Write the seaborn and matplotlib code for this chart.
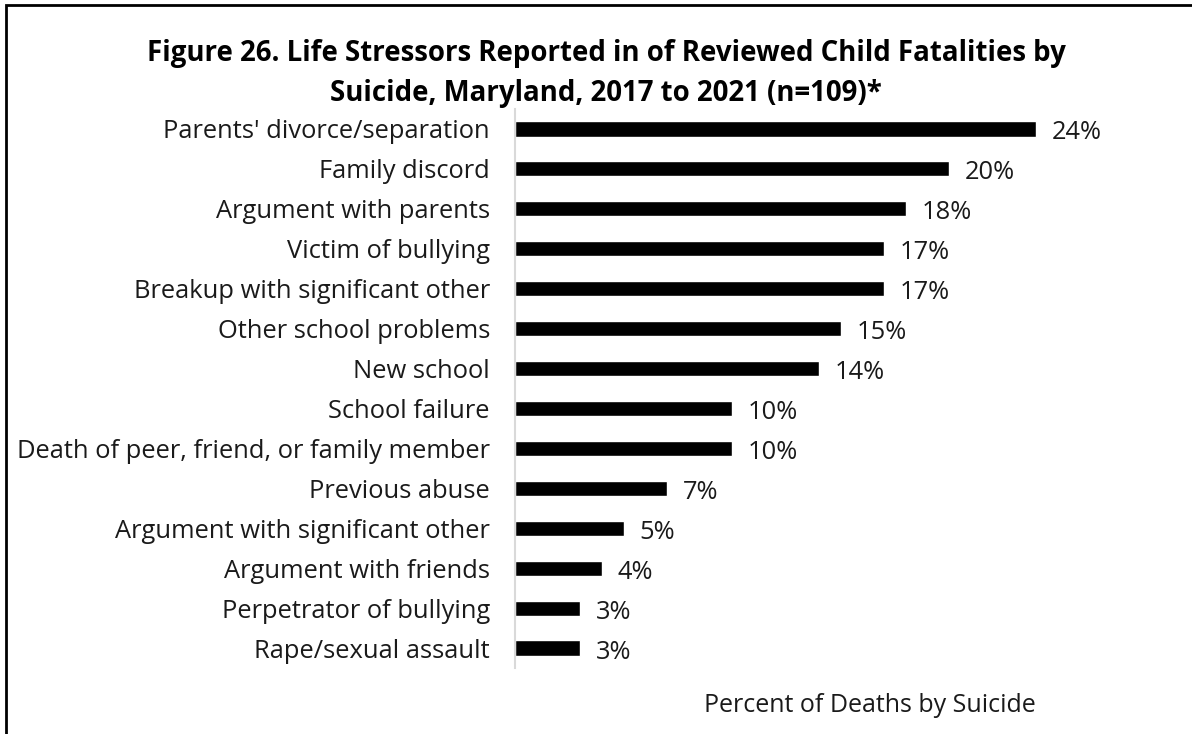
import matplotlib
matplotlib.use("Agg")
import matplotlib.pyplot as plt
import seaborn as sns
import pandas as pd
from matplotlib.patches import Rectangle

stressors = [
    "Parents' divorce/separation",
    "Family discord",
    "Argument with parents",
    "Victim of bullying",
    "Breakup with significant other",
    "Other school problems",
    "New school",
    "School failure",
    "Death of peer, friend, or family member",
    "Previous abuse",
    "Argument with significant other",
    "Argument with friends",
    "Perpetrator of bullying",
    "Rape/sexual assault",
]
percents = [24, 20, 18, 17, 17, 15, 14, 10, 10, 7, 5, 4, 3, 3]

title = ("Figure 26. Life Stressors Reported in of Reviewed Child Fatalities by\n"
         "Suicide, Maryland, 2017 to 2021 (n=109)*")
xlabel = "Percent of Deaths by Suicide"

df = pd.DataFrame({"stressor": stressors, "percent": percents})

sns.set_theme(style="white")
plt.rcParams["font.family"] = ["Open Sans", "DejaVu Sans"]

W, H = 1192, 734
fig = plt.figure(figsize=(W / 100, H / 100), dpi=100)
ax = fig.add_axes([515 / W, 1 - 668 / H, (1101 - 515) / W, (668 - 109) / H])

sns.barplot(data=df, x="percent", y="stressor", orient="h", color="black",
            saturation=1, width=0.38, ax=ax)

ax.set_xlim(0, 27)
ax.set_ylim(len(stressors) - 0.5, -0.5)
for s in ["top", "right", "bottom"]:
    ax.spines[s].set_visible(False)
ax.spines["left"].set_color("#d9d9d9")
ax.spines["left"].set_linewidth(1.5)
ax.set_xticks([])
ax.set_xlabel("")
ax.set_ylabel("")
ax.tick_params(axis="y", length=0, pad=18, labelsize=18.4, labelcolor="#1a1a1a")

for i, v in enumerate(percents):
    ax.annotate(f"{v}%", xy=(v, i), xytext=(16, -4), textcoords="offset pixels",
                va="center", ha="left", fontsize=18.4, color="#1a1a1a")

fig.text(606 / W, 1 - 74 / H, title, ha="center", va="center", fontsize=19.9,
         fontweight="bold", linespacing=1.5, color="black")
fig.text(870 / W, 1 - 706 / H, xlabel, ha="center", va="center", fontsize=18,
         color="#1a1a1a")

# outer frame
fig.patches.append(Rectangle((6 / W, -0.05), 1.1, 1 - 5 / H + 0.05,
                             transform=fig.transFigure, fill=False,
                             edgecolor="black", linewidth=2))

fig.savefig("out.png", dpi=100)
